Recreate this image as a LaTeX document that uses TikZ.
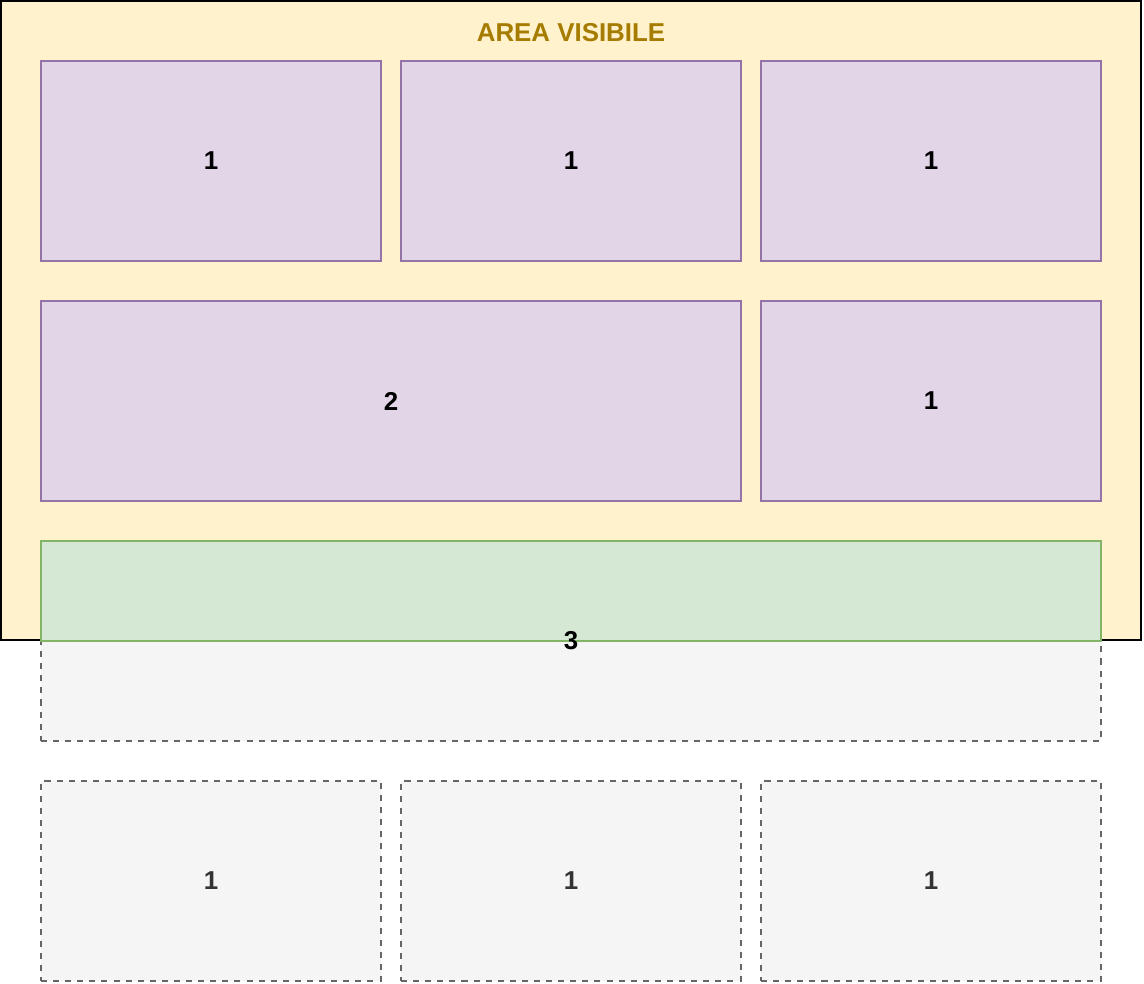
\documentclass[tikz,border=0pt]{standalone}
\usepackage{fontspec}
\setmainfont{Liberation Sans}
\usepackage{xcolor}
\usepackage{tikz}
\usetikzlibrary{positioning}
\definecolor{AreaFill}{HTML}{FFF2CC}
\definecolor{AreaText}{HTML}{A67C00}
\definecolor{CellFill}{HTML}{E1D5E7}
\definecolor{CellLine}{HTML}{9673A6}
\definecolor{FootFill}{HTML}{D5E8D4}
\definecolor{FootLine}{HTML}{82B366}
\definecolor{HideFill}{HTML}{F5F5F5}
\definecolor{HideLine}{HTML}{666666}
\definecolor{HideText}{HTML}{333333}

\begin{document}
\begin{tikzpicture}[line width=1.4pt,
                    every node/.style={font=\fontsize{18.4}{21}\selectfont\bfseries, outer sep=0pt, inner sep=0pt},
                    cell/.style={draw=CellLine, fill=CellFill, minimum width=8.5cm, minimum height=5cm},
                    hidden/.style={draw=HideLine, fill=HideFill, text=HideText, dash pattern=on 4.3pt off 4.3pt,
                                   minimum width=8.5cm, minimum height=5cm}]
\useasboundingbox (0,0) rectangle (28.6,-24.6);
\node[draw=black, fill=AreaFill, minimum width=28.5cm, minimum height=15.975cm, anchor=north west] (area) at (0.025,-0.025) {};
\node[text=AreaText] (title) at (14.275,-0.825) {AREA VISIBILE};
% prima riga
\node[cell, anchor=north west] (a1) at (1.025,-1.525) {1};
\node[cell, right=0.5cm of a1] (a2) {1};
\node[cell, right=0.5cm of a2] (a3) {1};
% seconda riga
\node[cell, minimum width=17.5cm, below=1cm of a1.south west, anchor=north west] (b1) {2};
\node[cell, right=0.5cm of b1] (b2) {1};
% riga a cavallo
\node[hidden, minimum width=26.5cm, below=1cm of b1.south west, anchor=north west] (scroll) {};
\node[draw=FootLine, fill=FootFill, minimum width=26.5cm, minimum height=2.5cm, anchor=north west] (foot) at (scroll.north west) {};
\node (three) at (scroll.center) {3};
% righe nascoste
\node[hidden, below=1cm of scroll.south west, anchor=north west] (c1) {1};
\node[hidden, right=0.5cm of c1] (c2) {1};
\node[hidden, right=0.5cm of c2] (c3) {1};
\end{tikzpicture}
\end{document}
